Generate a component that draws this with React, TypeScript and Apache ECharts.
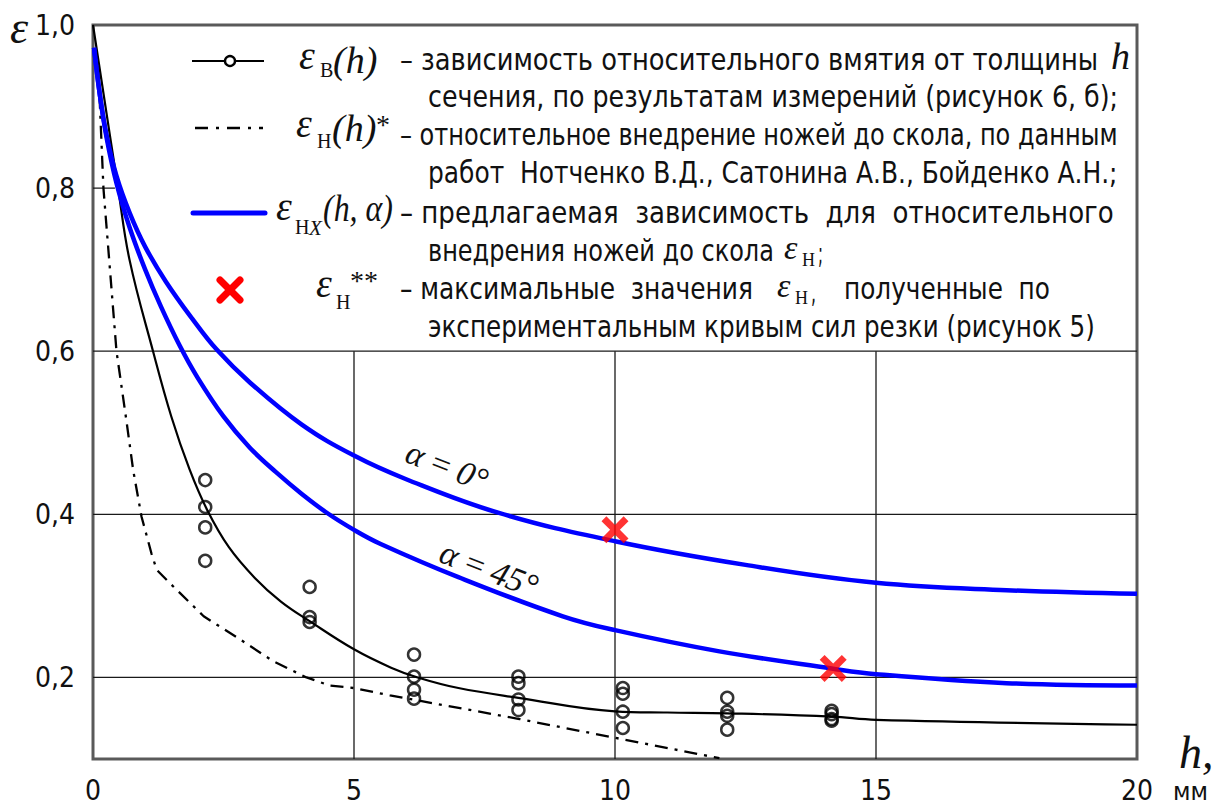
import React, { useEffect, useRef } from "react";
import * as echarts from "echarts";

// ---------- data ----------
const xTickValues = [0, 5, 10, 15, 20];
const yLabelValues = [0.2, 0.4, 0.6, 0.8, 1.0];
const yTickLabels = ["0,2", "0,4", "0,6", "0,8", "1,0"];

// measured points eps_B(h)
const measH = [
  2.15, 2.15, 2.15, 2.15,
  4.15, 4.15, 4.15,
  6.15, 6.15, 6.15, 6.15,
  8.15, 8.15, 8.15, 8.15,
  10.15, 10.15, 10.15, 10.15,
  12.15, 12.15, 12.15, 12.15,
  14.15, 14.15, 14.15, 14.15,
];
const measEps = [
  0.442, 0.409, 0.384, 0.343,
  0.311, 0.274, 0.268,
  0.228, 0.201, 0.185, 0.174,
  0.201, 0.193, 0.173, 0.16,
  0.187, 0.18, 0.158, 0.138,
  0.175, 0.158, 0.153, 0.136,
  0.159, 0.155, 0.149, 0.147,
];

// eps_B(h) fitted curve
const epsBH = [0, 0.48, 0.7, 1.15, 1.5, 1.85, 2.19, 2.6, 3.1, 3.6, 4.15, 5, 5.71, 6.22, 7, 8.15, 10, 11, 12.15, 14.15, 15, 20];
const epsBV = [1.0, 0.8, 0.712, 0.6, 0.52, 0.455, 0.405, 0.36, 0.322, 0.293, 0.269, 0.2345, 0.212, 0.2, 0.187, 0.175, 0.1585, 0.157, 0.156, 0.152, 0.148, 0.142];

// eps_H(h)* dash-dot
const epsNH = [0.1, 0.15, 0.2, 0.45, 0.64, 0.77, 0.93, 1.12, 1.22, 1.53, 2.12, 2.81, 3.45, 4.09, 4.54, 5.0, 5.69, 8.17, 10.0, 12.0];
const epsNV = [0.95, 0.875, 0.8, 0.6, 0.515, 0.454, 0.397, 0.352, 0.332, 0.312, 0.275, 0.247, 0.22, 0.2, 0.19, 0.187, 0.178, 0.149, 0.126, 0.101];

// eps_HX(h, alpha) alpha = 0
const alpha0H = [0.02, 0.13, 0.26, 0.45, 0.7, 1.0, 1.4, 1.9, 2.37, 3, 4, 5, 6, 7.76, 10, 12.5, 15, 17.5, 20];
const alpha0V = [0.972, 0.915, 0.865, 0.815, 0.77, 0.728, 0.685, 0.64, 0.602, 0.562, 0.51, 0.472, 0.443, 0.402, 0.367, 0.338, 0.316, 0.307, 0.3025];

// eps_HX(h, alpha) alpha = 45
const alpha45H = [0.02, 0.13, 0.26, 0.45, 0.7, 1.0, 1.3, 1.66, 2, 2.5, 3, 3.5, 4, 4.5, 5, 5.5, 7, 9, 10, 12, 14.15, 15, 17.5, 20];
const alpha45V = [0.972, 0.915, 0.862, 0.806, 0.752, 0.7, 0.655, 0.607, 0.568, 0.52, 0.482, 0.452, 0.425, 0.401, 0.381, 0.364, 0.323, 0.275, 0.258, 0.232, 0.211, 0.204, 0.193, 0.19];

// eps_H** maximum values
const maxH = [10.0, 14.18];
const maxEps = [0.381, 0.211];

// grid lines
const gridYFull = [0.2, 0.4, 0.6];
const gridXPart = [5, 10, 15];

// ---------- styling ----------
const CAD = "'Liberation Sans Narrow', 'DejaVu Sans Condensed', Roboto, sans-serif";
const SERIF = "'Liberation Serif', 'DejaVu Serif', serif";
const INK = "#111";
const BLUE = "#0000ff";
const RED = "#ff0000";

const zip = (a: number[], b: number[]) => a.map((v, i) => [v, b[i]]);

export default function App() {
  const ref = useRef<HTMLDivElement>(null);

  useEffect(() => {
    const el = ref.current!;
    const chart = echarts.init(el, null, { renderer: "svg" });
    const ctx = document.createElement("canvas").getContext("2d")!;

    const fit = (text: string, x0: number, x1: number, y: number, size = 30) => {
      const font = `${size}px ${CAD}`;
      ctx.font = font;
      const w = ctx.measureText(text).width || 1;
      return {
        type: "text",
        x: x0,
        y,
        scaleX: (x1 - x0) / w,
        z: 10,
        style: { text, font, fill: INK, textAlign: "left", textVerticalAlign: "middle" },
      };
    };
    const txt = (text: string, x: number, y: number, font: string, extra: any = {}) => ({
      type: "text",
      x,
      y,
      z: 10,
      style: { text, font, fill: INK, textAlign: "left", textVerticalAlign: "middle" },
      ...extra,
    });

    const epsF = `italic 40px ${SERIF}`;
    const subF = `20px ${SERIF}`;
    const argF = `italic 38px ${SERIF}`;

    const graphic: any[] = [
      // axis names
      txt("ε", 10, 27, `italic 46px ${SERIF}`),
      txt("h,", 1179, 752, `italic 46px ${SERIF}`),
      fit("мм", 1173, 1208, 792, 24),

      // legend row 1
      { type: "line", z: 10, shape: { x1: 192, y1: 61, x2: 264, y2: 61 }, style: { stroke: "#000", lineWidth: 2 } },
      { type: "circle", z: 11, shape: { cx: 230, cy: 61, r: 5 }, style: { fill: "#fff", stroke: "#000", lineWidth: 2.4 } },
      txt("ε", 299, 55, epsF),
      txt("В", 320, 70, subF),
      txt("(h)", 333, 60, argF),

      // legend row 2
      {
        type: "line", z: 10, shape: { x1: 195, y1: 128, x2: 263, y2: 128 },
        style: { stroke: "#000", lineWidth: 2.5, lineDash: [13, 8, 3, 8] },
      },
      txt("ε", 296, 123, epsF),
      txt("Н", 317, 141, subF),
      txt("(h)", 332, 128, argF),
      txt("*", 376, 124, `28px ${SERIF}`),

      // legend row 3
      { type: "line", z: 10, shape: { x1: 193, y1: 213, x2: 265, y2: 213 }, style: { stroke: BLUE, lineWidth: 5, lineCap: "round" } },
      txt("ε", 276, 206, epsF),
      txt("Н", 295, 227, subF),
      txt("X", 309, 228, `italic 21px ${SERIF}`),
      txt("(h, α)", 323, 209, argF, { scaleX: 0.84 }),

      // legend row 4
      { type: "line", z: 10, shape: { x1: 220, y1: 280, x2: 240, y2: 300 }, style: { stroke: RED, lineWidth: 7, lineCap: "round" } },
      { type: "line", z: 10, shape: { x1: 240, y1: 280, x2: 220, y2: 300 }, style: { stroke: RED, lineWidth: 7, lineCap: "round" } },
      txt("ε", 316, 283, epsF),
      txt("Н", 336, 302, subF),
      txt("**", 350, 280, `28px ${SERIF}`),

      // legend descriptions
      fit("– зависимость относительного вмятия от толщины", 400, 1098, 60),
      txt("h", 1111, 56, argF),
      fit("сечения, по результатам измерений (рисунок 6, б);", 428, 1119, 97),
      fit("– относительное внедрение ножей до скола, по данным", 400, 1118, 135),
      fit("работ  Нотченко В.Д., Сатонина А.В., Бойденко А.Н.;", 428, 1118, 173),
      fit("– предлагаемая  зависимость  для  относительного", 400, 1114, 213),
      fit("внедрения ножей до скола", 428, 774, 251),
      txt("ε", 784, 247, `italic 34px ${SERIF}`),
      txt("Н", 802, 260, `18px ${SERIF}`),
      fit(";", 818, 823, 253),
      fit("– максимальные  значения", 400, 753, 289),
      txt("ε", 777, 285, `italic 34px ${SERIF}`),
      txt("Н", 795, 298, `18px ${SERIF}`),
      fit(",", 811, 816, 292),
      fit("полученные  по", 844, 1050, 289),
      fit("экспериментальным кривым сил резки (рисунок 5)", 428, 1095, 327),

      // curve annotations
      {
        type: "text", x: 447, y: 466, rotation: -0.37, z: 10,
        style: { text: "α\u2009=\u20090°", font: `italic 34px ${SERIF}`, fill: INK, textAlign: "center", textVerticalAlign: "middle" },
      },
      {
        type: "text", x: 489, y: 569, rotation: -0.37, z: 10,
        style: { text: "α\u2009=\u200945°", font: `italic 34px ${SERIF}`, fill: INK, textAlign: "center", textVerticalAlign: "middle" },
      },
    ];

    const gridSeries: any[] = [];
    const gridStyle = { color: "#1a1a1a", width: 1.3 };
    gridYFull.forEach((y) =>
      gridSeries.push({ type: "line", z: 1, silent: true, symbol: "none", lineStyle: gridStyle, data: [[0, y], [20, y]] })
    );
    gridSeries.push({ type: "line", z: 1, silent: true, symbol: "none", lineStyle: gridStyle, data: [[0, 0.8], [0.42, 0.8]] });
    gridXPart.forEach((x) =>
      gridSeries.push({ type: "line", z: 1, silent: true, symbol: "none", lineStyle: gridStyle, data: [[x, 0.1], [x, 0.6]] })
    );

    const option: any = {
      animation: false,
      backgroundColor: "#fff",
      grid: {
        left: 93, right: 80, top: 25, bottom: 48, containLabel: false,
        show: true, borderColor: "#5a5a5a", borderWidth: 3, backgroundColor: "transparent",
      },
      xAxis: {
        type: "value", min: 0, max: 20, interval: 5,
        axisLine: { show: false }, axisTick: { show: false }, splitLine: { show: false },
        axisLabel: {
          fontFamily: CAD, fontSize: 28, color: INK, margin: 17,
          formatter: (v: number) => (xTickValues.includes(v) ? String(v) : ""),
        },
      },
      yAxis: {
        type: "value", min: 0.1, max: 1.0, interval: 0.1,
        axisLine: { show: false }, axisTick: { show: false }, splitLine: { show: false },
        axisLabel: {
          fontFamily: CAD, fontSize: 28, color: INK, margin: 18,
          formatter: (v: number) => {
            const i = yLabelValues.findIndex((t) => Math.abs(t - v) < 1e-6);
            return i >= 0 ? yTickLabels[i] : "";
          },
        },
      },
      graphic,
      series: [
        ...gridSeries,
        {
          name: "eps_H", type: "line", z: 3, silent: true, symbol: "none", smooth: false,
          lineStyle: { color: "#000", width: 2.3, type: [13, 7, 3, 7] },
          data: zip(epsNH, epsNV),
        },
        {
          name: "eps_B", type: "line", z: 3, silent: true, symbol: "none", smooth: 0.4,
          lineStyle: { color: "#000", width: 2.2 },
          data: zip(epsBH, epsBV),
        },
        {
          name: "alpha45", type: "line", z: 3, silent: true, symbol: "none", smooth: 0.4,
          lineStyle: { color: BLUE, width: 4.5 },
          data: zip(alpha45H, alpha45V),
        },
        {
          name: "alpha0", type: "line", z: 3, silent: true, symbol: "none", smooth: 0.4,
          lineStyle: { color: BLUE, width: 4.5 },
          data: zip(alpha0H, alpha0V),
        },
        {
          name: "meas", type: "scatter", z: 4, silent: true, symbol: "circle", symbolSize: 12,
          itemStyle: { color: "rgba(255,255,255,0)", borderColor: "#000", borderWidth: 2.5 },
          data: zip(measH, measEps),
        },
        {
          name: "max", type: "scatter", z: 5, silent: true,
          symbol: "path://M18,0L50,32L82,0L100,18L68,50L100,82L82,100L50,68L18,100L0,82L32,50L0,18Z",
          symbolSize: 27,
          itemStyle: { color: RED },
          data: zip(maxH, maxEps),
        },
      ],
    };

    chart.setOption(option);
    return () => chart.dispose();
  }, []);

  return (
    <div
      ref={ref}
      style={{ position: "fixed", left: 0, top: 0, width: 1217, height: 807, background: "#fff" }}
    />
  );
}
